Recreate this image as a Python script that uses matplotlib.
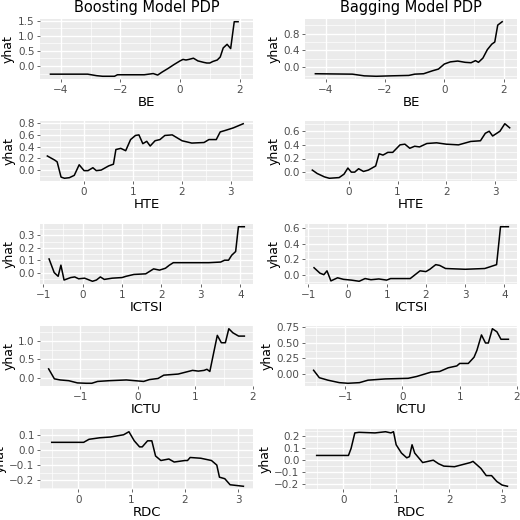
import numpy as np
import matplotlib
matplotlib.use("Agg")
import matplotlib.pyplot as plt

# (x, yhat) pairs, one list per panel
boost_be = [(-4.35,-0.27),(-3.1,-0.27),(-2.8,-0.32),(-2.6,-0.34),(-2.2,-0.34),(-2.1,-0.29),(-1.6,-0.29),(-1.2,-0.29),(-0.9,-0.25),(-0.75,-0.3),(-0.6,-0.2),(-0.4,-0.08),(-0.2,0.05),(0,0.17),(0.1,0.22),(0.2,0.2),(0.3,0.22),(0.45,0.26),(0.6,0.17),(0.8,0.12),(0.9,0.1),(1.0,0.1),(1.1,0.15),(1.25,0.2),(1.35,0.3),(1.45,0.6),(1.58,0.72),(1.7,0.58),(1.82,1.47),(1.95,1.47)]
bag_be = [(-4.35,-0.15),(-3.1,-0.16),(-2.7,-0.2),(-2.3,-0.21),(-1.8,-0.2),(-1.2,-0.19),(-1.0,-0.16),(-0.7,-0.15),(-0.4,-0.08),(-0.2,-0.04),(0,0.08),(0.2,0.13),(0.45,0.15),(0.7,0.12),(0.9,0.11),(1.05,0.16),(1.15,0.12),(1.3,0.22),(1.45,0.42),(1.6,0.55),(1.7,0.6),(1.8,1.0),(1.95,1.08)]
boost_hte = [(-0.75,0.24),(-0.6,0.17),(-0.55,0.14),(-0.47,-0.12),(-0.4,-0.14),(-0.3,-0.13),(-0.2,-0.09),(-0.1,0.09),(0,-0.01),(0.08,-0.01),(0.18,0.04),(0.25,-0.01),(0.35,0),(0.5,0.07),(0.6,0.1),(0.65,0.35),(0.75,0.37),(0.85,0.33),(0.95,0.52),(1.05,0.59),(1.12,0.6),(1.2,0.45),(1.28,0.49),(1.35,0.41),(1.45,0.5),(1.55,0.52),(1.65,0.59),(1.8,0.6),(2.0,0.5),(2.2,0.46),(2.45,0.47),(2.55,0.52),(2.7,0.52),(2.78,0.65),(2.9,0.68),(3.05,0.72),(3.25,0.79)]
bag_hte = [(-0.75,0.03),(-0.65,-0.02),(-0.5,-0.07),(-0.4,-0.09),(-0.2,-0.08),(-0.1,-0.03),(-0.02,0.06),(0.05,0),(0.12,0),(0.2,0.05),(0.3,0.01),(0.4,0.03),(0.55,0.09),(0.62,0.27),(0.7,0.25),(0.8,0.29),(0.9,0.29),(1.05,0.4),(1.15,0.41),(1.25,0.35),(1.35,0.38),(1.45,0.37),(1.6,0.42),(1.8,0.43),(2.0,0.41),(2.25,0.4),(2.5,0.45),(2.7,0.46),(2.8,0.57),(2.88,0.6),(2.95,0.53),(3.1,0.6),(3.2,0.71),(3.3,0.65)]
boost_ictsi = [(-0.85,0.11),(-0.72,0),(-0.62,-0.03),(-0.55,0.06),(-0.47,-0.06),(-0.3,-0.04),(-0.2,-0.035),(-0.1,-0.05),(0.05,-0.045),(0.25,-0.07),(0.35,-0.06),(0.45,-0.035),(0.55,-0.055),(0.75,-0.045),(1.0,-0.04),(1.1,-0.03),(1.3,-0.015),(1.6,-0.01),(1.7,0.01),(1.8,0.03),(1.95,0.02),(2.1,0.035),(2.2,0.06),(2.3,0.08),(2.6,0.08),(3.2,0.08),(3.5,0.085),(3.6,0.1),(3.7,0.1),(3.78,0.14),(3.88,0.17),(3.95,0.37),(4.1,0.37)]
bag_ictsi = [(-0.85,0.09),(-0.7,0.02),(-0.6,0),(-0.52,0.05),(-0.42,-0.08),(-0.25,-0.04),(-0.1,-0.06),(0.1,-0.07),(0.3,-0.085),(0.45,-0.05),(0.6,-0.065),(0.8,-0.055),(1.0,-0.07),(1.1,-0.05),(1.6,-0.05),(1.7,-0.01),(1.85,0.05),(2.0,0.04),(2.1,0.07),(2.25,0.13),(2.35,0.12),(2.5,0.08),(3.0,0.07),(3.5,0.08),(3.8,0.13),(3.9,0.62),(4.1,0.62)]
boost_ictu = [(-1.55,0.24),(-1.45,-0.03),(-1.35,-0.06),(-1.2,-0.08),(-1.05,-0.14),(-0.9,-0.15),(-0.8,-0.15),(-0.7,-0.1),(-0.5,-0.08),(-0.2,-0.06),(0.1,-0.1),(0.2,-0.05),(0.35,-0.02),(0.45,0.07),(0.7,0.1),(0.8,0.14),(0.95,0.2),(1.05,0.18),(1.15,0.2),(1.2,0.23),(1.25,0.17),(1.32,0.7),(1.38,1.15),(1.45,0.95),(1.52,0.95),(1.58,1.33),(1.65,1.22),(1.75,1.13),(1.85,1.13)]
bag_ictu = [(-1.55,0.06),(-1.45,-0.06),(-1.3,-0.1),(-1.1,-0.14),(-0.95,-0.15),(-0.75,-0.14),(-0.6,-0.1),(-0.3,-0.08),(0.1,-0.07),(0.25,-0.04),(0.5,0.03),(0.65,0.04),(0.8,0.1),(0.95,0.13),(1.0,0.17),(1.15,0.17),(1.25,0.27),(1.3,0.38),(1.38,0.63),(1.45,0.5),(1.5,0.5),(1.57,0.73),(1.65,0.68),(1.72,0.56),(1.85,0.56)]
boost_rdc = [(-0.5,0.05),(0.1,0.05),(0.2,0.07),(0.4,0.08),(0.6,0.085),(0.85,0.1),(0.95,0.12),(1.05,0.06),(1.15,0.02),(1.2,0.02),(1.3,0.06),(1.38,0.06),(1.45,-0.04),(1.55,-0.07),(1.7,-0.06),(1.8,-0.08),(1.9,-0.075),(2.0,-0.07),(2.05,-0.07),(2.1,-0.05),(2.3,-0.055),(2.5,-0.07),(2.6,-0.1),(2.65,-0.18),(2.75,-0.19),(2.85,-0.23),(3.1,-0.24)]
bag_rdc = [(-0.5,0.04),(0.1,0.04),(0.15,0.1),(0.22,0.23),(0.3,0.235),(0.6,0.23),(0.8,0.24),(0.9,0.23),(0.95,0.24),(1.0,0.13),(1.1,0.06),(1.2,0.02),(1.25,0.03),(1.3,0.13),(1.35,0.06),(1.5,-0.02),(1.7,0),(1.8,-0.03),(1.9,-0.05),(2.1,-0.055),(2.4,-0.02),(2.45,-0.01),(2.6,-0.07),(2.7,-0.13),(2.8,-0.13),(2.9,-0.18),(3.0,-0.21),(3.1,-0.22)]

features = ["BE", "HTE", "ICTSI", "ICTU", "RDC"]
boost = [boost_be, boost_hte, boost_ictsi, boost_ictu, boost_rdc]
bag = [bag_be, bag_hte, bag_ictsi, bag_ictu, bag_rdc]
boost_yticks = [[0.0, 0.5, 1.0, 1.5], [0.0, 0.2, 0.4, 0.6, 0.8], [0.0, 0.1, 0.2, 0.3],
                [0.0, 0.5, 1.0], [-0.2, -0.1, 0.0, 0.1]]
bag_yticks = [[0.0, 0.4, 0.8], [0.0, 0.2, 0.4, 0.6], [0.0, 0.2, 0.4, 0.6],
              [0.0, 0.25, 0.5, 0.75], [-0.2, -0.1, 0.0, 0.1, 0.2]]
xticks = [[-4, -2, 0, 2], [0, 1, 2, 3], [-1, 0, 1, 2, 3, 4], [-1, 0, 1, 2], [0, 1, 2, 3]]
xlims = [(-4.7, 2.45), (-0.9, 3.45), (-1.08, 4.32), (-1.7, 2.0), (-0.72, 3.28)]
yfmt_boost = ["%.1f", "%.1f", "%.1f", "%.1f", "%.1f"]
yfmt_bag = ["%.1f", "%.1f", "%.1f", "%.2f", "%.1f"]

fig = plt.figure(figsize=(5.2, 5.2), dpi=100)
W, H = 520.0, 520.0
tops = [19, 121, 224, 326, 429]
ph = 60
cols = [(40, 253), (305, 517)]


def minor_of(t):
    step = t[1] - t[0]
    return [t[0] - step / 2] + [v + step / 2 for v in t]


def draw(ax, pts, yt, xt, xl, label, fmt):
    pts = np.array(pts)
    ax.set_facecolor("#EBEBEB")
    for s in ax.spines.values():
        s.set_visible(False)
    ax.plot(pts[:, 0], pts[:, 1], color="black", lw=1.1, zorder=3)
    ax.set_xlim(*xl)
    yr = pts[:, 1].max() - pts[:, 1].min()
    ax.set_ylim(pts[:, 1].min() - 0.05 * yr, pts[:, 1].max() + 0.05 * yr)
    ax.set_xticks(xt)
    ax.set_yticks(yt)
    ax.set_xticks(minor_of(xt), minor=True)
    ax.set_yticks(minor_of(yt), minor=True)
    ax.set_xlim(*xl)
    ax.set_ylim(pts[:, 1].min() - 0.05 * yr, pts[:, 1].max() + 0.05 * yr)
    ax.set_xticklabels([("%g" % v).replace("-", "\u2212") for v in xt])
    ax.set_yticklabels([(fmt % v).replace("-", "\u2212") for v in yt])
    ax.grid(which="major", color="white", lw=1.0)
    ax.grid(which="minor", color="white", lw=0.5)
    ax.set_axisbelow(True)
    ax.tick_params(which="major", labelsize=7.5, colors="#4D4D4D", length=2.5, width=0.6, pad=1.5)
    ax.tick_params(which="minor", length=0)
    ax.set_xlabel(label, fontsize=9.5, labelpad=1)
    ax.set_ylabel("yhat", fontsize=9, labelpad=2)


for i, f in enumerate(features):
    for j, (data, yts, fmts) in enumerate([(boost, boost_yticks, yfmt_boost), (bag, bag_yticks, yfmt_bag)]):
        x0, x1 = cols[j]
        ax = fig.add_axes([x0 / W, 1 - (tops[i] + ph) / H, (x1 - x0) / W, ph / H])
        draw(ax, data[i], yts[i], xticks[i], xlims[i], f, fmts[i])
        if i == 0:
            ax.set_title(["Boosting Model PDP", "Bagging Model PDP"][j], fontsize=10.5, pad=5)

fig.savefig("out.png", dpi=100)
